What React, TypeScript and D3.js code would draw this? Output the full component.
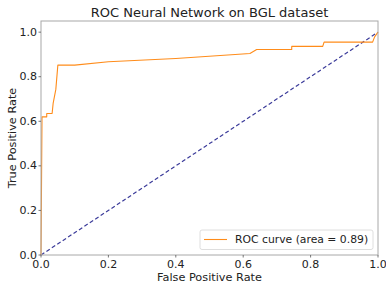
import React from "react";
import * as d3 from "d3";

// ROC curve points
const fpr = [0, 0.003, 0.017, 0.017, 0.033, 0.036, 0.044, 0.05, 0.1, 0.2, 0.4, 0.62, 0.64, 0.744, 0.744, 0.836, 0.84, 0.984, 0.99, 1.0];
const tpr = [0, 0.62, 0.62, 0.635, 0.635, 0.68, 0.743, 0.852, 0.852, 0.867, 0.882, 0.904, 0.922, 0.922, 0.936, 0.936, 0.955, 0.955, 0.979, 1.0];
const chanceX = [0, 1];
const chanceY = [0, 1];
const tickValues = [0, 0.2, 0.4, 0.6, 0.8, 1.0];

const WIDTH = 386;
const HEIGHT = 284;
const FONT = "DejaVu Sans, sans-serif";

export default function App() {
    const margin = { top: 21, right: 8, bottom: 29, left: 41 };

    const x = d3.scaleLinear([0, 1], [margin.left, WIDTH - margin.right]);
    const y = d3.scaleLinear([0, 1.05], [HEIGHT - margin.bottom, margin.top]);

    const line = d3.line<number>()
        .x((d) => x(d))
        .y((d, i) => y(tpr[i]));

    const diag = d3.line<number>()
        .x((d) => x(d))
        .y((d, i) => y(chanceY[i]));

    const x0 = x(0), x1 = x(1);
    const yb = y(0), yt = y(1.05);

    // legend box
    const lg = { x: 200, y: 230, w: 173, h: 19.5 };

    return <svg width={WIDTH} height={HEIGHT}
        style={{ position: "absolute", left: 0, top: 0, background: "white" }}
        fontFamily={FONT}>

        <text x={(x0 + x1) / 2} y={17} textAnchor="middle" fontSize={13} fill="#222">
            ROC Neural Network on BGL dataset
        </text>

        <path d={diag(chanceX)!} fill="none" stroke="#3b3b9a" strokeWidth={1.2} strokeDasharray="4,2.5" />
        <path d={line(fpr)!} fill="none" stroke="#ff8c1a" strokeWidth={1.1} strokeLinejoin="round" />

        {/* spines */}
        <rect x={x0} y={yt} width={x1 - x0} height={yb - yt} fill="none" stroke="#a8a8a8" strokeWidth={1} />

        <g name="xTicks">
            {tickValues.map((t) => (
                <g key={t}>
                    <line x1={x(t)} x2={x(t)} y1={yb} y2={yb + 2.5} stroke="#555" strokeWidth={0.8} />
                    <text x={x(t)} y={yb + 13} textAnchor="middle" fontSize={11} fill="#222">{t.toFixed(1)}</text>
                </g>
            ))}
        </g>
        <g name="yTicks">
            {tickValues.map((t) => (
                <g key={t}>
                    <line x1={x0 - 2.5} x2={x0} y1={y(t)} y2={y(t)} stroke="#555" strokeWidth={0.8} />
                    <text x={x0 - 4} y={y(t)} dominantBaseline="central" textAnchor="end" fontSize={11} fill="#222">{t.toFixed(1)}</text>
                </g>
            ))}
        </g>

        <text x={(x0 + x1) / 2} y={281} textAnchor="middle" fontSize={11.3} fill="#222">False Positive Rate</text>
        <text transform={`translate(16,${(yb + yt) / 2}) rotate(-90)`} textAnchor="middle" fontSize={11.3} fill="#222">True Positive Rate</text>

        <g name="legend">
            <rect x={lg.x} y={lg.y} width={lg.w} height={lg.h} rx={2} fill="white" fillOpacity={0.8} stroke="#d5d5d5" strokeWidth={0.8} />
            <line x1={lg.x + 4} x2={lg.x + 27} y1={lg.y + 9.5} y2={lg.y + 9.5} stroke="#ff8c1a" strokeWidth={1.1} />
            <text x={lg.x + 35} y={lg.y + 9.8} dominantBaseline="central" fontSize={10.8} fill="#222">ROC curve (area = 0.89)</text>
        </g>
    </svg>;
}
